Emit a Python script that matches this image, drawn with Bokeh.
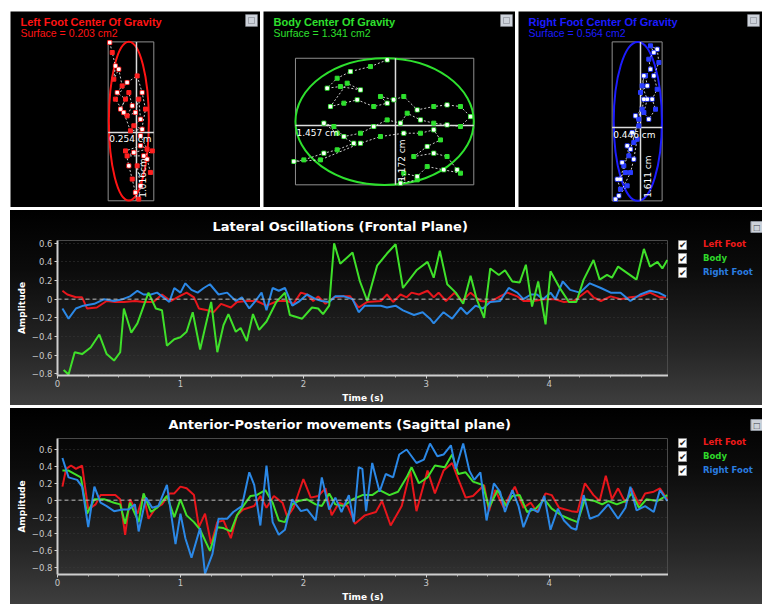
import math
from bokeh.plotting import figure
from bokeh.layouts import column, row, Spacer
from bokeh.models import (Label, Span, Legend, LegendItem, FixedTicker, Range1d, Title,
                          BoxAnnotation)
from bokeh.embed import file_html
from bokeh.resources import INLINE

# ---------------- time series (seconds, amplitude) ----------------
LAT_LEFT_T = [0.04,0.08,0.15,0.20,0.24,0.32,0.40,0.47,0.54,0.63,
              0.70,0.78,0.85,0.92,0.99,1.05,1.11,1.15,1.22,1.27,
              1.33,1.41,1.46,1.54,1.62,1.70,1.79,1.87,1.92,1.98,
              2.03,2.08,2.12,2.18,2.25,2.33,2.38,2.45,2.52,2.63,
              2.68,2.73,2.79,2.84,2.88,2.94,3.01,3.06,3.10,3.16,
              3.23,3.29,3.36,3.44,3.52,3.60,3.66,3.74,3.79,3.87,
              3.96,4.04,4.12,4.20,4.31,4.36,4.42,4.50,4.58,4.66,
              4.74,4.82,4.90,4.95]
LAT_LEFT_V = [0.09,0.05,0.02,0.02,-0.10,-0.09,-0.02,-0.03,-0.03,-0.02,
              -0.03,-0.03,0.05,-0.02,0.03,0.07,0.02,-0.10,-0.12,-0.14,
              -0.05,-0.09,-0.03,-0.02,-0.02,-0.07,-0.02,-0.02,-0.05,0.07,
              0.05,-0.02,0.03,-0.05,0.02,0.03,0.03,-0.09,-0.03,-0.02,
              0.05,-0.03,0.05,0.02,0.07,0.05,0.09,0.02,0.07,-0.02,
              0.07,-0.02,0.07,-0.02,-0.03,0.03,0.07,0.03,-0.02,-0.02,
              0.0,0.0,-0.03,-0.02,0.09,0.02,-0.02,0.03,0.0,0.02,
              0.03,0.07,0.02,0.02]

LAT_BODY_T = [0.05,0.09,0.14,0.20,0.27,0.34,0.40,0.46,0.51,0.54,
              0.60,0.65,0.74,0.80,0.85,0.89,0.95,1.00,1.05,1.10,
              1.16,1.20,1.25,1.30,1.35,1.39,1.45,1.49,1.54,1.59,
              1.64,1.70,1.78,1.85,1.89,1.99,2.07,2.12,2.16,2.21,
              2.25,2.30,2.40,2.46,2.52,2.60,2.68,2.75,2.81,2.92,
              3.01,3.06,3.11,3.17,3.24,3.30,3.36,3.41,3.47,3.52,
              3.59,3.64,3.70,3.76,3.81,3.86,3.91,3.97,4.01,4.09,
              4.16,4.22,4.28,4.36,4.41,4.47,4.51,4.56,4.71,4.77,
              4.82,4.88,4.92,4.96]
LAT_BODY_V = [-0.76,-0.81,-0.57,-0.59,-0.52,-0.38,-0.59,-0.66,-0.57,-0.10,
              -0.36,-0.26,0.07,-0.10,-0.12,-0.50,-0.43,-0.41,-0.35,-0.14,
              -0.54,-0.31,-0.03,-0.57,-0.28,-0.16,-0.35,-0.31,-0.45,-0.16,
              -0.33,-0.24,-0.03,0.07,-0.17,-0.21,-0.09,-0.10,-0.16,-0.07,
              0.60,0.38,0.50,0.19,-0.02,0.36,0.49,0.59,0.12,0.31,
              0.40,0.23,0.52,0.16,0.07,-0.05,0.25,0.0,-0.20,0.33,
              0.26,0.31,0.19,0.18,0.37,-0.08,0.19,-0.27,0.30,0.11,
              -0.03,-0.03,0.21,0.42,0.21,0.26,0.23,0.35,0.21,0.54,
              0.35,0.40,0.33,0.42]

LAT_RIGHT_T = [0.04,0.09,0.15,0.21,0.30,0.38,0.46,0.53,0.59,
               0.65,0.70,0.76,0.81,0.86,0.91,0.95,1.00,1.04,1.09,
               1.14,1.19,1.24,1.31,1.38,1.45,1.50,1.56,1.61,1.66,
               1.70,1.75,1.80,1.85,1.91,1.96,2.03,2.10,2.15,2.21,
               2.26,2.33,2.40,2.45,2.50,2.57,2.63,2.68,2.75,2.81,
               2.90,2.97,3.03,3.06,3.14,3.21,3.28,3.33,3.40,3.46,
               3.52,3.60,3.67,3.74,3.79,3.85,3.90,3.95,4.01,4.05,
               4.11,4.17,4.25,4.33,4.42,4.50,4.58,4.66,4.74,4.82,
               4.89,4.95]
LAT_RIGHT_V = [-0.10,-0.21,-0.10,-0.07,-0.05,0.0,-0.02,0.0,0.03,
               0.09,0.05,0.05,0.07,0.02,-0.03,0.12,0.07,0.17,0.10,
               0.07,0.12,0.16,0.05,0.07,-0.02,0.02,-0.10,-0.02,0.07,
               -0.12,0.12,0.09,0.12,-0.07,-0.03,0.05,0.0,-0.02,-0.03,
               0.03,0.03,0.0,-0.14,-0.07,-0.07,-0.07,-0.09,-0.07,-0.12,
               -0.17,-0.14,-0.21,-0.26,-0.14,-0.21,-0.09,-0.16,-0.07,-0.10,
               -0.03,-0.02,0.12,0.07,0.0,0.05,0.05,0.0,0.07,0.0,
               0.19,0.10,0.07,0.17,0.12,0.07,0.07,-0.02,0.05,0.09,
               0.07,0.03]

AP_LEFT_T = [0.04,0.07,0.11,0.15,0.20,0.25,0.31,0.35,0.40,0.47,
             0.51,0.55,0.59,0.65,0.70,0.74,0.80,0.85,0.91,0.95,
             1.00,1.05,1.11,1.15,1.20,1.25,1.30,1.35,1.41,1.46,
             1.51,1.60,1.65,1.70,1.76,1.83,1.87,1.92,2.00,2.06,
             2.12,2.18,2.23,2.29,2.36,2.42,2.50,2.59,2.64,2.71,
             2.80,2.87,2.92,3.01,3.07,3.14,3.21,3.26,3.32,3.38,
             3.47,3.51,3.56,3.63,3.67,3.72,3.79,3.85,3.90,3.97,
             4.02,4.08,4.13,4.18,4.23,4.29,4.36,4.41,4.46,4.51,
             4.56,4.62,4.67,4.73,4.78,4.85,4.90,4.96]
AP_LEFT_V = [0.16,0.37,0.41,0.37,0.41,-0.11,-0.05,0.06,0.06,0.06,
             0.01,-0.41,0.01,-0.16,0.06,-0.22,-0.09,-0.05,0.08,0.08,
             0.16,0.14,0.06,-0.32,-0.16,-0.52,-0.26,-0.24,-0.45,-0.18,
             -0.11,-0.07,0.05,-0.09,0.05,-0.03,-0.20,-0.09,0.25,0.03,
             0.05,0.14,-0.18,-0.03,-0.07,-0.28,-0.18,-0.14,-0.01,-0.30,
             -0.07,0.35,-0.13,0.35,0.08,0.35,0.44,0.25,0.03,0.05,
             0.18,-0.13,0.12,-0.09,0.03,0.16,-0.09,-0.03,-0.14,0.08,
             0.06,-0.09,-0.11,-0.13,-0.14,0.20,0.06,-0.01,0.29,0.01,
             0.14,-0.03,0.14,-0.05,0.08,0.10,0.14,0.01]

AP_BODY_T = [0.04,0.09,0.19,0.24,0.30,0.38,0.46,0.51,0.55,0.59,
             0.66,0.70,0.76,0.81,0.89,0.95,1.00,1.05,1.11,1.16,
             1.24,1.30,1.35,1.41,1.46,1.51,1.57,1.62,1.69,1.75,
             1.80,1.85,1.91,1.96,2.03,2.10,2.15,2.21,2.26,2.33,
             2.40,2.48,2.56,2.62,2.70,2.77,2.84,2.88,2.94,3.01,
             3.07,3.15,3.21,3.26,3.32,3.38,3.46,3.51,3.58,3.65,
             3.70,3.76,3.82,3.89,3.96,4.02,4.10,4.16,4.23,4.29,
             4.37,4.43,4.48,4.55,4.62,4.67,4.73,4.79,4.88,4.96]
AP_BODY_V = [0.35,0.35,0.27,-0.16,0.01,0.01,-0.03,-0.05,-0.28,-0.03,
             -0.26,0.08,-0.14,-0.09,0.05,-0.20,0.01,-0.18,-0.26,-0.35,
             -0.60,-0.32,-0.33,-0.37,-0.18,-0.07,0.05,0.06,0.12,-0.03,
             -0.24,-0.26,-0.05,-0.01,0.01,-0.05,-0.07,0.08,-0.05,-0.07,
             0.01,0.06,0.06,0.12,0.06,0.10,0.27,0.39,0.20,0.27,
             0.41,0.39,0.54,0.31,0.33,0.22,0.18,-0.09,0.12,-0.07,
             0.05,0.06,-0.14,-0.10,0.01,-0.10,-0.18,-0.22,-0.26,0.01,
             -0.01,-0.05,-0.01,-0.05,-0.01,0.08,-0.09,0.01,-0.01,0.06]

AP_RIGHT_T = [0.04,0.09,0.16,0.20,0.25,0.30,0.35,0.40,0.46,0.53,
              0.58,0.63,0.66,0.72,0.77,0.82,0.89,0.96,1.00,1.04,
              1.09,1.16,1.20,1.26,1.31,1.38,1.43,1.50,1.56,1.60,
              1.65,1.70,1.75,1.80,1.85,1.91,1.98,2.03,2.10,2.15,
              2.21,2.26,2.31,2.37,2.41,2.45,2.48,2.51,2.56,2.62,
              2.67,2.73,2.78,2.84,2.92,2.98,3.03,3.09,3.14,3.20,
              3.24,3.30,3.35,3.39,3.44,3.49,3.55,3.60,3.64,3.70,
              3.75,3.79,3.85,3.91,3.96,4.01,4.07,4.12,4.18,4.22,
              4.28,4.33,4.40,4.48,4.56,4.62,4.66,4.71,4.78,4.85,
              4.90,4.96]
AP_RIGHT_V = [0.50,0.27,0.24,0.16,-0.32,0.16,-0.03,-0.07,-0.13,-0.11,
              -0.11,-0.05,-0.37,0.03,-0.09,-0.07,0.18,-0.52,-0.16,-0.45,
              -0.68,-0.33,-0.87,-0.64,-0.22,-0.22,-0.14,-0.07,0.33,0.18,
              -0.30,0.41,-0.26,-0.41,-0.35,0.01,-0.13,-0.11,-0.24,0.27,
              -0.11,0.03,-0.14,0.06,-0.26,0.39,0.37,-0.13,0.44,0.10,
              0.31,0.27,0.54,0.60,0.44,0.48,0.67,0.52,0.54,0.65,
              0.37,0.67,0.35,0.24,0.33,-0.24,0.20,0.10,-0.14,0.12,
              -0.07,-0.32,-0.10,-0.14,0.05,-0.35,-0.10,-0.24,-0.33,-0.35,
              0.06,-0.22,-0.18,-0.05,-0.22,-0.09,0.16,-0.12,-0.07,-0.14,
              0.12,-0.01]

X_TICKS = [0, 1, 2, 3, 4]
X_MINOR = [0.25, 0.5, 0.75, 1.25, 1.5, 1.75, 2.25, 2.5, 2.75, 3.25, 3.5, 3.75, 4.25, 4.5, 4.75]
Y_TICKS = [-0.8, -0.6, -0.4, -0.2, 0, 0.2, 0.4, 0.6]
SERIES_NAMES = ["Left Foot", "Body", "Right Foot"]

# ---------------- centre-of-gravity clouds (cm, relative to mean) ----------------
LEFT_COG_X = [-0.151,-0.137,-0.119,-0.128,-0.100,-0.081,-0.109,-0.062,-0.090,-0.043,
              -0.024,-0.053,-0.006,0.013,0.023,-0.015,0.032,-0.034,-0.072,-0.119,
              -0.053,0.004,0.032,0.051,0.023,0.060,-0.015,-0.053,0.041,0.089,
              0.023,-0.062,-0.043,-0.024,-0.006,0.013,0.023,0.004,0.060,0.079]
LEFT_COG_Y = [0.577,0.513,0.427,0.342,0.406,0.299,0.256,0.214,0.150,0.256,
              0.171,0.107,0.128,0.214,0.085,0.043,0.021,0.011,0.128,0.214,
              0.321,0.363,0.256,0.150,-0.021,-0.107,-0.128,-0.150,-0.150,-0.118,
              -0.085,-0.118,-0.214,-0.299,-0.385,-0.427,-0.342,-0.214,-0.171,-0.256]
LEFT_BOX = [-0.160, 0.098, -0.438, 0.581]        # xmin, xmax, ymin, ymax
LEFT_ELLIPSE = [-0.043, 0.073, 0.226, 1.019]     # cx, cy, width, height

BODY_COG_X = [-0.068,-0.205,-0.369,-0.478,-0.560,-0.451,-0.287,-0.396,-0.533,-0.423,
              -0.314,-0.178,-0.068,-0.123,-0.014,0.068,0.178,0.314,0.423,0.533,
              0.615,0.533,0.423,0.314,0.205,0.096,0.041,-0.068,-0.178,-0.287,
              -0.423,-0.505,-0.587,-0.478,-0.342,-0.478,-0.587,-0.751,-0.833,-0.615,
              -0.287,-0.123,0.068,0.205,0.314,0.369,0.260,0.150,0.314,0.423,
              0.505,0.533,0.396,0.260,0.178,0.068,0.041,0.178]
BODY_COG_Y = [0.608,0.546,0.500,0.438,0.346,0.361,0.330,0.392,0.176,0.207,
              0.238,0.176,0.207,0.269,0.238,0.269,0.145,0.176,0.191,0.176,
              0.083,-0.009,0.006,0.022,0.052,0.114,0.022,0.052,-0.009,-0.071,
              -0.102,-0.009,0.022,-0.071,-0.164,-0.225,-0.256,-0.318,-0.333,-0.318,
              -0.164,-0.102,-0.071,-0.071,-0.040,-0.133,-0.194,-0.287,-0.256,-0.287,
              -0.410,-0.441,-0.410,-0.380,-0.472,-0.441,-0.534,-0.503]
BODY_BOX = [-0.820, 0.642, -0.549, 0.623]
BODY_ELLIPSE = [-0.089, 0.037, 1.462, 1.173]

RIGHT_COG_X = [-0.223,-0.179,-0.208,-0.134,-0.164,-0.104,-0.119,-0.060,-0.074,-0.015,
               -0.045,0.015,0.030,0.0,0.060,0.045,0.089,0.074,0.119,0.089,
               0.149,0.164,0.119,0.149,0.104,0.134,0.074,0.030,0.060,0.015,
               0.030,-0.015,-0.089,-0.149,-0.179,-0.119,-0.193,-0.089,-0.060,-0.030]
RIGHT_COG_Y = [-0.724,-0.623,-0.522,-0.455,-0.354,-0.286,-0.185,-0.152,-0.051,0.017,
               0.118,0.185,0.286,0.354,0.421,0.522,0.589,0.690,0.758,0.825,
               0.791,0.657,0.522,0.387,0.286,0.185,0.084,0.152,0.286,0.421,
               0.522,0.084,-0.219,-0.387,-0.522,-0.589,-0.690,-0.455,-0.320,-0.118]
RIGHT_BOX = [-0.253, 0.193, -0.741, 0.865]
RIGHT_ELLIPSE = [-0.024, 0.062, 0.430, 1.606]

RED = "#e8161c"
GREEN = "#3fe02a"
BLUE = "#2b88e6"
COLORS = {"Left Foot": RED, "Body": GREEN, "Right Foot": BLUE}
TEXT_COLORS = {"Left Foot": "#f01a1a", "Body": "#2fd82a", "Right Foot": "#2a7de0"}
GRADIENT = "linear-gradient(180deg, #000000 0%, #0b0b0b 30%, #262626 72%, #3e3e3e 100%)"


def add_icon(p, width, height):
    p.add_layout(BoxAnnotation(left=width - 15, right=width - 3, top=height - 3, bottom=height - 15,
                               left_units="screen", right_units="screen",
                               top_units="screen", bottom_units="screen",
                               fill_color="#cdd2da", fill_alpha=1,
                               line_color="#8d939c", line_width=1))
    p.add_layout(BoxAnnotation(left=width - 12, right=width - 6, top=height - 6, bottom=height - 12,
                               left_units="screen", right_units="screen",
                               top_units="screen", bottom_units="screen",
                               fill_alpha=0, line_color="#3a3f48", line_width=1))


def cog_panel(width, height, xr, yr, color, dot_color, title, surface,
              xs, ys, box, ell, w_text, h_text):
    p = figure(width=width, height=height, x_range=Range1d(*xr), y_range=Range1d(*yr),
               x_axis_type=None, y_axis_type=None, output_backend="svg",
               toolbar_location=None, min_border=0,
               background_fill_color="black", border_fill_color="black",
               outline_line_color=None)
    xmin, xmax, ymin, ymax = box
    p.quad(left=[xmin], right=[xmax], bottom=[ymin], top=[ymax],
           fill_color=None, line_color="#8f8f8f", line_width=1)
    p.ellipse(x=[ell[0]], y=[ell[1]], width=[ell[2]], height=[ell[3]],
              fill_color=None, line_color=color, line_width=2)
    p.line(xs, ys, line_color="white", line_dash="2 2", line_width=1, line_alpha=0.8)
    p.segment(x0=[xmin, 0], y0=[0, ymin], x1=[xmax, 0], y1=[0, ymax],
              line_color="#dcdcdc", line_width=1.5)
    p.scatter(xs, ys, marker="square", size=4, color=dot_color)
    p.scatter(xs[::2], ys[::2], marker="square", size=2.5, color="white")
    p.add_layout(Label(x=10, y=height - 10, x_units="screen", y_units="screen",
                       text=title, text_color=color, text_font="Liberation Sans",
                       text_font_style="bold", text_font_size="11px",
                       text_baseline="middle"))
    p.add_layout(Label(x=10, y=height - 21, x_units="screen", y_units="screen",
                       text=surface, text_color=color, text_font="Liberation Sans",
                       text_font_size="10.5px", text_baseline="middle"))
    p.add_layout(Label(x=xmin, y=0, text=w_text, text_color="white",
                       text_font="DejaVu Sans", text_font_size="9px",
                       text_baseline="top", x_offset=1, y_offset=-2))
    p.add_layout(Label(x=0, y=ymin, text=h_text, text_color="white", angle=math.pi / 2,
                       text_font="DejaVu Sans", text_font_size="9px",
                       text_align="left", text_baseline="top", x_offset=2, y_offset=3))
    add_icon(p, width, height)
    return p


def style_axes(p):
    for ax in (p.xaxis[0], p.yaxis[0]):
        ax.axis_line_color = "#cfcfcf"
        ax.axis_line_width = 2
        ax.major_tick_line_color = "#cfcfcf"
        ax.major_tick_out = 3
        ax.major_tick_in = 0
        ax.minor_tick_line_color = "#bdbdbd"
        ax.minor_tick_out = 2
        ax.minor_tick_in = 0
        ax.major_label_text_color = "#c8c8c8"
        ax.major_label_text_font = "DejaVu Sans"
        ax.major_label_text_font_size = "8.5px"
        ax.axis_label_text_color = "white"
        ax.axis_label_text_font = "DejaVu Sans"
        ax.axis_label_text_font_style = "bold"
        ax.axis_label_text_font_size = "9px"
        ax.major_label_standoff = 2
        ax.axis_label_standoff = 2
    p.xaxis[0].ticker = FixedTicker(ticks=X_TICKS, minor_ticks=X_MINOR)
    p.yaxis[0].ticker = FixedTicker(ticks=Y_TICKS, minor_ticks=[])
    p.yaxis[0].major_label_overrides = {0: "0"}
    p.xaxis[0].axis_label = "Time (s)"
    p.yaxis[0].axis_label = "Amplitude"
    p.xaxis[0].axis_label_standoff = 3
    p.xaxis[0].major_label_standoff = 1


def ts_panel(height, yr, top_border, bottom_border, title, title_offset, series):
    p = figure(width=658, height=height, x_range=Range1d(0, 4.97), y_range=Range1d(*yr),
               output_backend="svg", toolbar_location=None,
               min_border_left=47, min_border_right=0,
               min_border_top=top_border, min_border_bottom=bottom_border,
               background_fill_color=None, border_fill_color=None,
               outline_line_color="#4a4a4a", styles={"background": GRADIENT})
    p.title.text = title
    p.title.text_color = "white"
    p.title.text_font = "DejaVu Sans"
    p.title.text_font_size = "13px"
    p.title.text_font_style = "bold"
    p.title.align = "left"
    p.title.offset = title_offset
    p.title.standoff = 13
    style_axes(p)
    p.xgrid.visible = False
    p.ygrid.grid_line_color = "#3a3a3a"
    p.ygrid.grid_line_dash = "1 3"

    for name, t, v in series:
        p.line(t, v, line_color=COLORS[name], line_width=2)
    p.add_layout(Span(location=0, dimension="width", line_color="#bdbdbd",
                      line_dash="4 3", line_width=1))
    return p


def legend_panel(height, top_border, bottom_border, first_row):
    frame_h = height - top_border - bottom_border
    q = figure(width=94, height=height, x_range=Range1d(0, 1), y_range=Range1d(0, 1),
               x_axis_type=None, y_axis_type=None, output_backend="svg",
               toolbar_location=None, min_border_left=0, min_border_right=0,
               min_border_top=top_border, min_border_bottom=bottom_border,
               outline_line_color=None,
               background_fill_color=None, border_fill_color=None,
               styles={"background": GRADIENT})
    q.add_layout(Title(text="\u00a0\u25a1\u00a0", align="right", vertical_align="top",
                       text_color="#3a3f48", text_font_size="10px", standoff=12,
                       background_fill_color="#cdd2da", border_line_color="#8d939c"), "above")
    for i, name in enumerate(SERIES_NAMES):
        r = q.line([], [], line_color=COLORS[name], line_width=2)
        yc = frame_h - first_row - 14 * i
        q.add_layout(Legend(items=[LegendItem(label=name, renderers=[r])],
                            location=(24, yc - 5), orientation="vertical",
                            label_text_color=TEXT_COLORS[name], label_text_font="DejaVu Sans",
                            label_text_font_style="bold", label_text_font_size="8.5px",
                            glyph_width=8, glyph_height=9, label_height=9,
                            label_standoff=3, padding=0, margin=0, spacing=0,
                            border_line_color=None, background_fill_alpha=0))
        q.add_layout(Label(x=14, y=yc, x_units="screen", y_units="screen",
                           text="\u2714", text_color="#222222", text_font_size="9px",
                           text_align="center", text_baseline="middle",
                           background_fill_color="white", border_line_color="#9a9a9a"))
    return q


p_left = cog_panel(250, 196, (-0.712, 0.701), (-0.481, 0.776), "#ff1414", "#ff2020",
                   "Left Foot Center Of Gravity", "Surface = 0.203 cm2",
                   LEFT_COG_X, LEFT_COG_Y, LEFT_BOX, LEFT_ELLIPSE, "0.254 cm", "1.016cm")
p_body = cog_panel(252, 196, (-1.082, 0.984), (-0.759, 1.056), "#2ee02e", "#2ee02e",
                   "Body Center Of Gravity", "Surface = 1.341 cm2",
                   BODY_COG_X, BODY_COG_Y, BODY_BOX, BODY_ELLIPSE, "1.457 cm", "1.172 cm")
p_right = cog_panel(244, 196, (-1.089, 1.089), (-0.808, 1.172), "#1c1cff", "#2a3cff",
                    "Right Foot Center Of Gravity", "Surface = 0.564 cm2",
                    RIGHT_COG_X, RIGHT_COG_Y, RIGHT_BOX, RIGHT_ELLIPSE, "0.446 cm", "1.611 cm")

p_lat = ts_panel(195, (-0.82, 0.63), 26, 29, "Lateral Oscillations (Frontal Plane)", 155,
                 [("Left Foot", LAT_LEFT_T, LAT_LEFT_V),
                  ("Right Foot", LAT_RIGHT_T, LAT_RIGHT_V),
                  ("Body", LAT_BODY_T, LAT_BODY_V)])
p_ap = ts_panel(196, (-0.88, 0.73), 28, 29, "Anterior-Posterior movements (Sagittal plane)", 111,
                [("Left Foot", AP_LEFT_T, AP_LEFT_V),
                 ("Body", AP_BODY_T, AP_BODY_V),
                 ("Right Foot", AP_RIGHT_T, AP_RIGHT_V)])

content = column(Spacer(height=8),
                 row(p_left, p_body, p_right, spacing=3),
                 row(p_lat, legend_panel(195, 26, 29, 9)),
                 row(p_ap, legend_panel(196, 28, 29, 7)),
                 spacing=3)
layout = row(Spacer(width=10), content)

open("out.html", "w").write(file_html(layout, INLINE, title="Center of gravity"))
